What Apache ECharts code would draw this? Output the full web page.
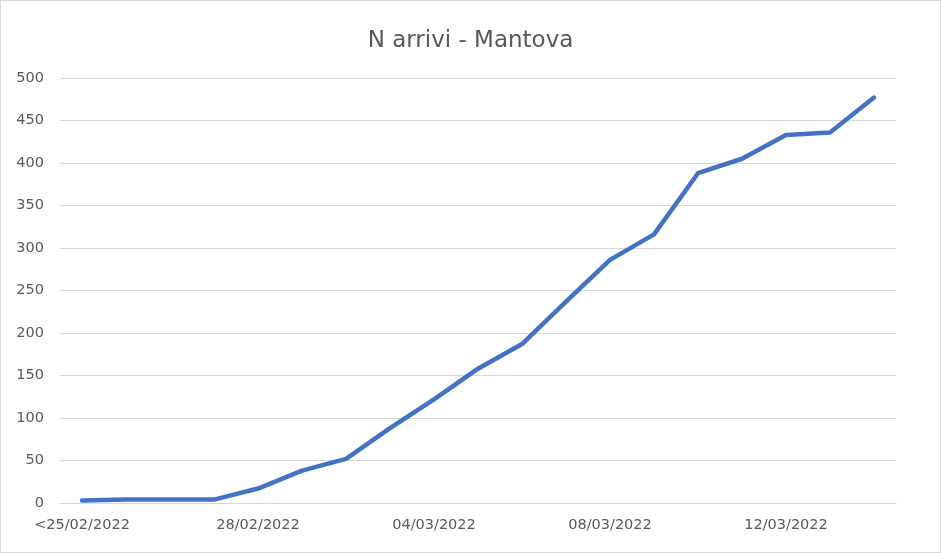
<!DOCTYPE html>
<html>
<head>
<meta charset="utf-8">
<script src="https://cdn.jsdelivr.net/npm/echarts@6/dist/echarts.min.js"></script>
<style>
  html, body { margin: 0; padding: 0; background: #fff; }
  #chart { width: 941px; height: 553px; box-sizing: border-box; border: 1px solid #d9d9d9; }
</style>
</head>
<body>
<div id="chart"></div>
<script>
const titleText = 'N arrivi - Mantova';
const categories = ['<25/02/2022', '25/02/2022', '26/02/2022', '27/02/2022', '28/02/2022',
  '01/03/2022', '02/03/2022', '03/03/2022', '04/03/2022', '05/03/2022', '06/03/2022',
  '07/03/2022', '08/03/2022', '09/03/2022', '10/03/2022', '11/03/2022', '12/03/2022',
  '13/03/2022', '14/03/2022'];
const arrivals = [3, 4, 4, 4, 17, 38, 52, 88, 122, 158, 187, 237, 286, 316, 388, 405, 433, 436, 477];
const yMin = 0, yMax = 500, yStep = 50;

const chart = echarts.init(document.getElementById('chart'), null, { renderer: 'canvas' });
const font = '"DejaVu Sans", "Liberation Sans", sans-serif';
chart.setOption({
  animation: false,
  backgroundColor: '#ffffff',
  title: {
    text: titleText,
    left: 'center',
    top: 24,
    textStyle: { color: '#595959', fontSize: 23, fontWeight: 'normal', fontFamily: font }
  },
  grid: { left: 59, right: 44, top: 77, bottom: 49, containLabel: false },
  xAxis: {
    type: 'category',
    data: categories,
    boundaryGap: true,
    axisLine: { show: true, lineStyle: { color: '#d9d9d9', width: 1 } },
    axisTick: { show: false },
    axisLabel: { interval: 3, color: '#595959', fontSize: 14.5, fontFamily: font, margin: 15 },
    splitLine: { show: false }
  },
  yAxis: {
    type: 'value',
    min: yMin, max: yMax, interval: yStep,
    axisLine: { show: false },
    axisTick: { show: false },
    axisLabel: { color: '#595959', fontSize: 14.5, fontFamily: font, margin: 16 },
    splitLine: { show: true, lineStyle: { color: '#d9d9d9', width: 1 } }
  },
  series: [{
    type: 'line',
    data: arrivals,
    showSymbol: false,
    symbol: 'none',
    lineStyle: { color: '#4472C4', width: 4.5, cap: 'round', join: 'round' },
    itemStyle: { color: '#4472C4' }
  }]
});
</script>
</body>
</html>
